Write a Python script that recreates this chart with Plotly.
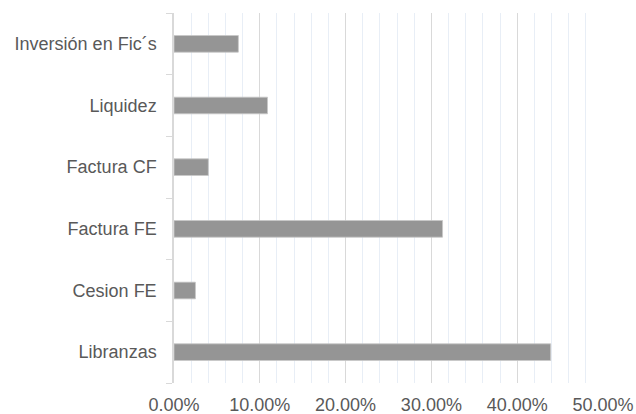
import plotly.graph_objects as go

categories = ["Libranzas", "Cesion FE", "Factura FE", "Factura CF", "Liquidez", "Inversión en Fic´s"]
values = [0.439, 0.025, 0.313, 0.040, 0.109, 0.075]

fig = go.Figure(go.Bar(
    x=values, y=categories, orientation="h",
    marker=dict(color="#959595", line=dict(color="#c8c8c8", width=0.8)),
    hoverinfo="skip",
))

fig.update_layout(
    width=636, height=414,
    margin=dict(l=174, r=33, t=13, b=31),
    paper_bgcolor="white", plot_bgcolor="white",
    bargap=0.73,
    showlegend=False,
    font=dict(family="Liberation Sans, Arial, sans-serif", size=18, color="#595959"),
)
fig.update_xaxes(
    range=[0, 0.5], dtick=0.1, tickformat=".2%",
    showgrid=True, gridcolor="#d9d9d9", gridwidth=1,
    minor=dict(dtick=0.02, showgrid=True, gridcolor="#e8eef6", gridwidth=1),
    zeroline=False, showline=False, ticks="",
    ticklabelstandoff=9, automargin=False,
)
fig.update_yaxes(
    showline=True, linecolor="#d9d9d9", linewidth=1.5,
    ticks="outside", tickson="boundaries", ticklen=6, tickcolor="#d9d9d9",
    showgrid=False, ticklabelstandoff=12, automargin=False,
)

fig.write_html("out.html", config={"displayModeBar": False},
               post_script="document.body.style.margin='0';")
